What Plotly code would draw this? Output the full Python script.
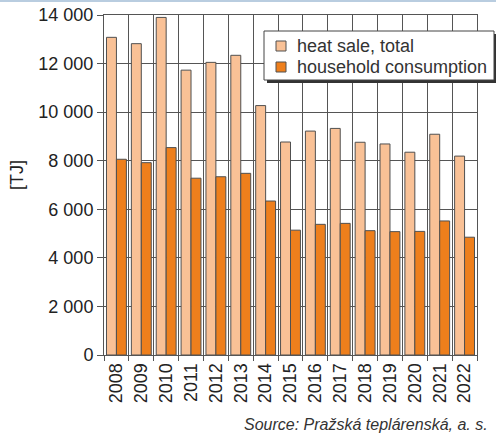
import plotly.graph_objects as go

years = [str(y) for y in range(2008, 2023)]
heat_sale_total = [13080, 12820, 13900, 11730, 12050, 12340, 10270, 8770, 9220, 9330, 8760, 8690, 8350, 9090, 8190]
household_consumption = [8060, 7920, 8540, 7280, 7340, 7480, 6340, 5140, 5380, 5420, 5120, 5080, 5090, 5520, 4850]
series_names = ["heat sale, total", "household consumption"]
series_colors = ["#F9C196", "#EE7F1C"]

W, H = 496, 433
L, R, T, B = 104, 19, 15, 78
pw, ph = W - L - R, H - T - B

font = "Liberation Sans, Arial, sans-serif"

fig = go.Figure()
for name, vals, col in zip(series_names, [heat_sale_total, household_consumption], series_colors):
    fig.add_trace(go.Bar(x=years, y=vals, name=name,
                         marker=dict(color=col, line=dict(color="#505050", width=1))))


def px_x(p):
    return (p - L) / pw


def px_y(p):
    return (H - B - p) / ph


# legend (box with shadow, symbols, labels)
lx0, ly0, lx1, ly1 = 264, 31, 494, 80
fig.add_shape(type="rect", xref="paper", yref="paper",
              x0=px_x(lx0 + 3), x1=px_x(lx1 + 3), y0=px_y(ly1 + 3), y1=px_y(ly0 + 3),
              fillcolor="#333333", line=dict(width=0), layer="above")
fig.add_shape(type="rect", xref="paper", yref="paper",
              x0=px_x(lx0), x1=px_x(lx1), y0=px_y(ly1), y1=px_y(ly0),
              fillcolor="white", line=dict(color="#444444", width=1), layer="above")
row_centers = [46, 67]
for name, col, yc in zip(series_names, series_colors, row_centers):
    fig.add_shape(type="rect", xref="paper", yref="paper",
                  x0=px_x(276), x1=px_x(286), y0=px_y(yc + 5), y1=px_y(yc - 5),
                  fillcolor=col, line=dict(color="#505050", width=1), layer="above")
    fig.add_annotation(text=name, xref="paper", yref="paper", x=px_x(295), y=px_y(yc),
                       xanchor="left", yanchor="middle", showarrow=False,
                       font=dict(family=font, size=18, color="#333333"))

# top blue rule
fig.add_shape(type="line", xref="paper", yref="paper",
              x0=px_x(0), x1=px_x(W), y0=px_y(1), y1=px_y(1),
              line=dict(color="#B9CDE0", width=2))

fig.add_annotation(text="<i>Source: Pražská teplárenská, a. s.</i>", xref="paper", yref="paper",
                   x=px_x(490), y=px_y(424), xanchor="right", yanchor="middle",
                   showarrow=False, font=dict(family=font, size=16, color="#333333"))
fig.add_annotation(text="[TJ]", xref="paper", yref="paper", x=px_x(17), y=px_y(175),
                   xanchor="center", yanchor="middle", textangle=-90, showarrow=False,
                   font=dict(family=font, size=18, color="#222222"))

fig.update_layout(
    width=W, height=H,
    margin=dict(l=L, r=R, t=T, b=B, autoexpand=False),
    paper_bgcolor="white", plot_bgcolor="white",
    barmode="group", bargap=0.2, bargroupgap=0,
    separators=". ",
    font=dict(family=font, size=18, color="#222222"),
    showlegend=False,
)
fig.update_xaxes(type="category", tickangle=-90, tickson="boundaries",
                 showgrid=True, gridcolor="#555555", gridwidth=1,
                 showline=True, linecolor="#555555", linewidth=1,
                 ticks="outside", ticklen=5, tickcolor="#555555",
                 tickfont=dict(family=font, size=18, color="#222222"),
                 mirror=True)
fig.update_yaxes(range=[0, 14000], dtick=2000, tickformat=",d",
                 showgrid=True, gridcolor="#555555", gridwidth=1,
                 showline=True, linecolor="#555555", linewidth=1,
                 ticks="outside", ticklen=6, tickcolor="#555555",
                 tickfont=dict(family=font, size=18, color="#222222"),
                 mirror=True, zeroline=False)

fig.write_html("out.html", config={"displayModeBar": False},
               post_script="document.body.style.margin='0';document.body.style.overflow='hidden';")
